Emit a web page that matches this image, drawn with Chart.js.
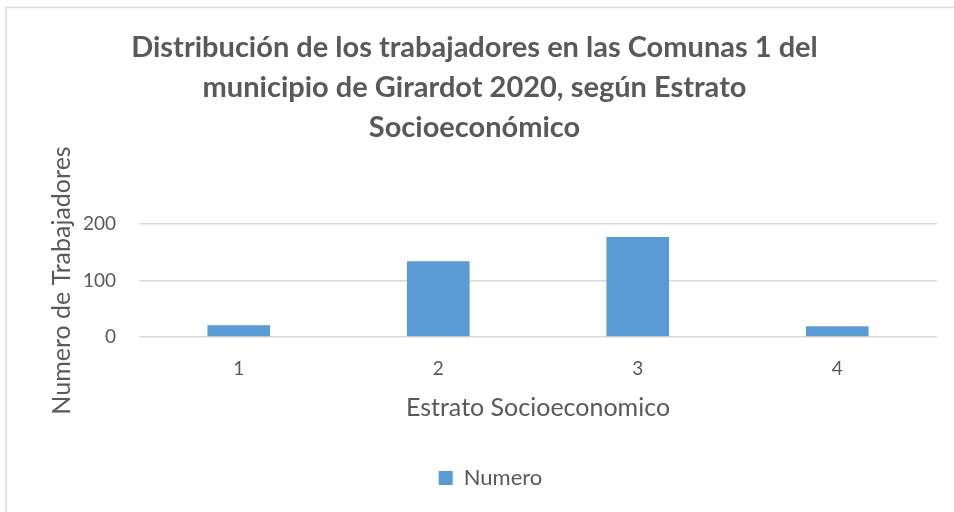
<!DOCTYPE html>
<html>
<head>
<meta charset="utf-8">
<script src="https://cdn.jsdelivr.net/npm/chart.js@4/dist/chart.umd.min.js"></script>
<style>
html,body{margin:0;padding:0;background:#fff;}
canvas{display:block;}
</style>
</head>
<body>
<canvas id="c" width="954" height="512"></canvas>
<script>
const categories = ["1", "2", "3", "4"];
const seriesName = "Numero";
const values = [21, 134, 177, 19];
const yTicks = [0, 100, 200];
const titleLines = ["Distribución de los trabajadores en las Comunas 1 del", "municipio de Girardot 2020, según Estrato", "Socioeconómico"];
const xTitle = "Estrato Socioeconomico";
const yTitle = "Numero de Trabajadores";

const FONT = "Lato, 'Open Sans', sans-serif";
const TXT = "#595959";

const framePlugin = {
  id: 'frame',
  beforeDraw(chart) {
    const ctx = chart.ctx;
    ctx.save();
    ctx.fillStyle = '#fff';
    ctx.fillRect(0, 0, chart.width, chart.height);
    ctx.strokeStyle = '#d9d9d9';
    ctx.lineWidth = 1.5;
    ctx.strokeRect(6, 7.5, 960, 520);
    ctx.restore();
  },
  afterLayout(chart) {
    if (chart.legend) { chart.legend.left += 44; }
    if (chart.titleBlock) { chart.titleBlock.left += 12; }
  }
};

new Chart(document.getElementById('c'), {
  type: 'bar',
  data: {
    labels: categories,
    datasets: [{
      label: seriesName,
      data: values,
      backgroundColor: '#5b9bd5',
      borderWidth: 0,
      barPercentage: 0.314,
      categoryPercentage: 1.0
    }]
  },
  options: {
    responsive: false,
    animation: false,
    devicePixelRatio: 1,
    layout: { padding: { left: 0, right: 17, top: 0, bottom: 13 } },
    plugins: {
      title: {
        display: true,
        text: titleLines,
        color: TXT,
        font: { family: FONT, size: 29, weight: 'bold', lineHeight: 40/29 },
        padding: { top: 28, bottom: 76 }
      },
      legend: {
        display: true,
        position: 'bottom',
        labels: {
          color: TXT,
          font: { family: FONT, size: 22 },
          boxWidth: 14,
          boxHeight: 14,
          padding: 10
        }
      },
      tooltip: { enabled: false }
    },
    scales: {
      x: {
        grid: { display: false, drawTicks: false },
        border: { display: false },
        ticks: { color: TXT, font: { family: FONT, size: 19 }, padding: 20 },
        title: { display: true, text: xTitle, color: TXT, font: { family: FONT, size: 25 }, padding: { top: 0, bottom: 34 } },
        afterFit(s) { s.height = 120; }
      },
      y: {
        min: 0, max: 200,
        afterBuildTicks(s) { s.ticks = yTicks.map(v => ({ value: v })); },
        grid: { color: '#d9d9d9', lineWidth: 1.5, drawTicks: false },
        border: { display: false },
        ticks: { color: TXT, font: { family: FONT, size: 19 }, padding: 23 },
        title: { display: true, text: yTitle, color: TXT, font: { family: FONT, size: 25 }, padding: { top: 47, bottom: 0 } },
        afterFit(s) { s.width = 139; }
      }
    }
  },
  plugins: [framePlugin]
});
</script>
</body>
</html>
